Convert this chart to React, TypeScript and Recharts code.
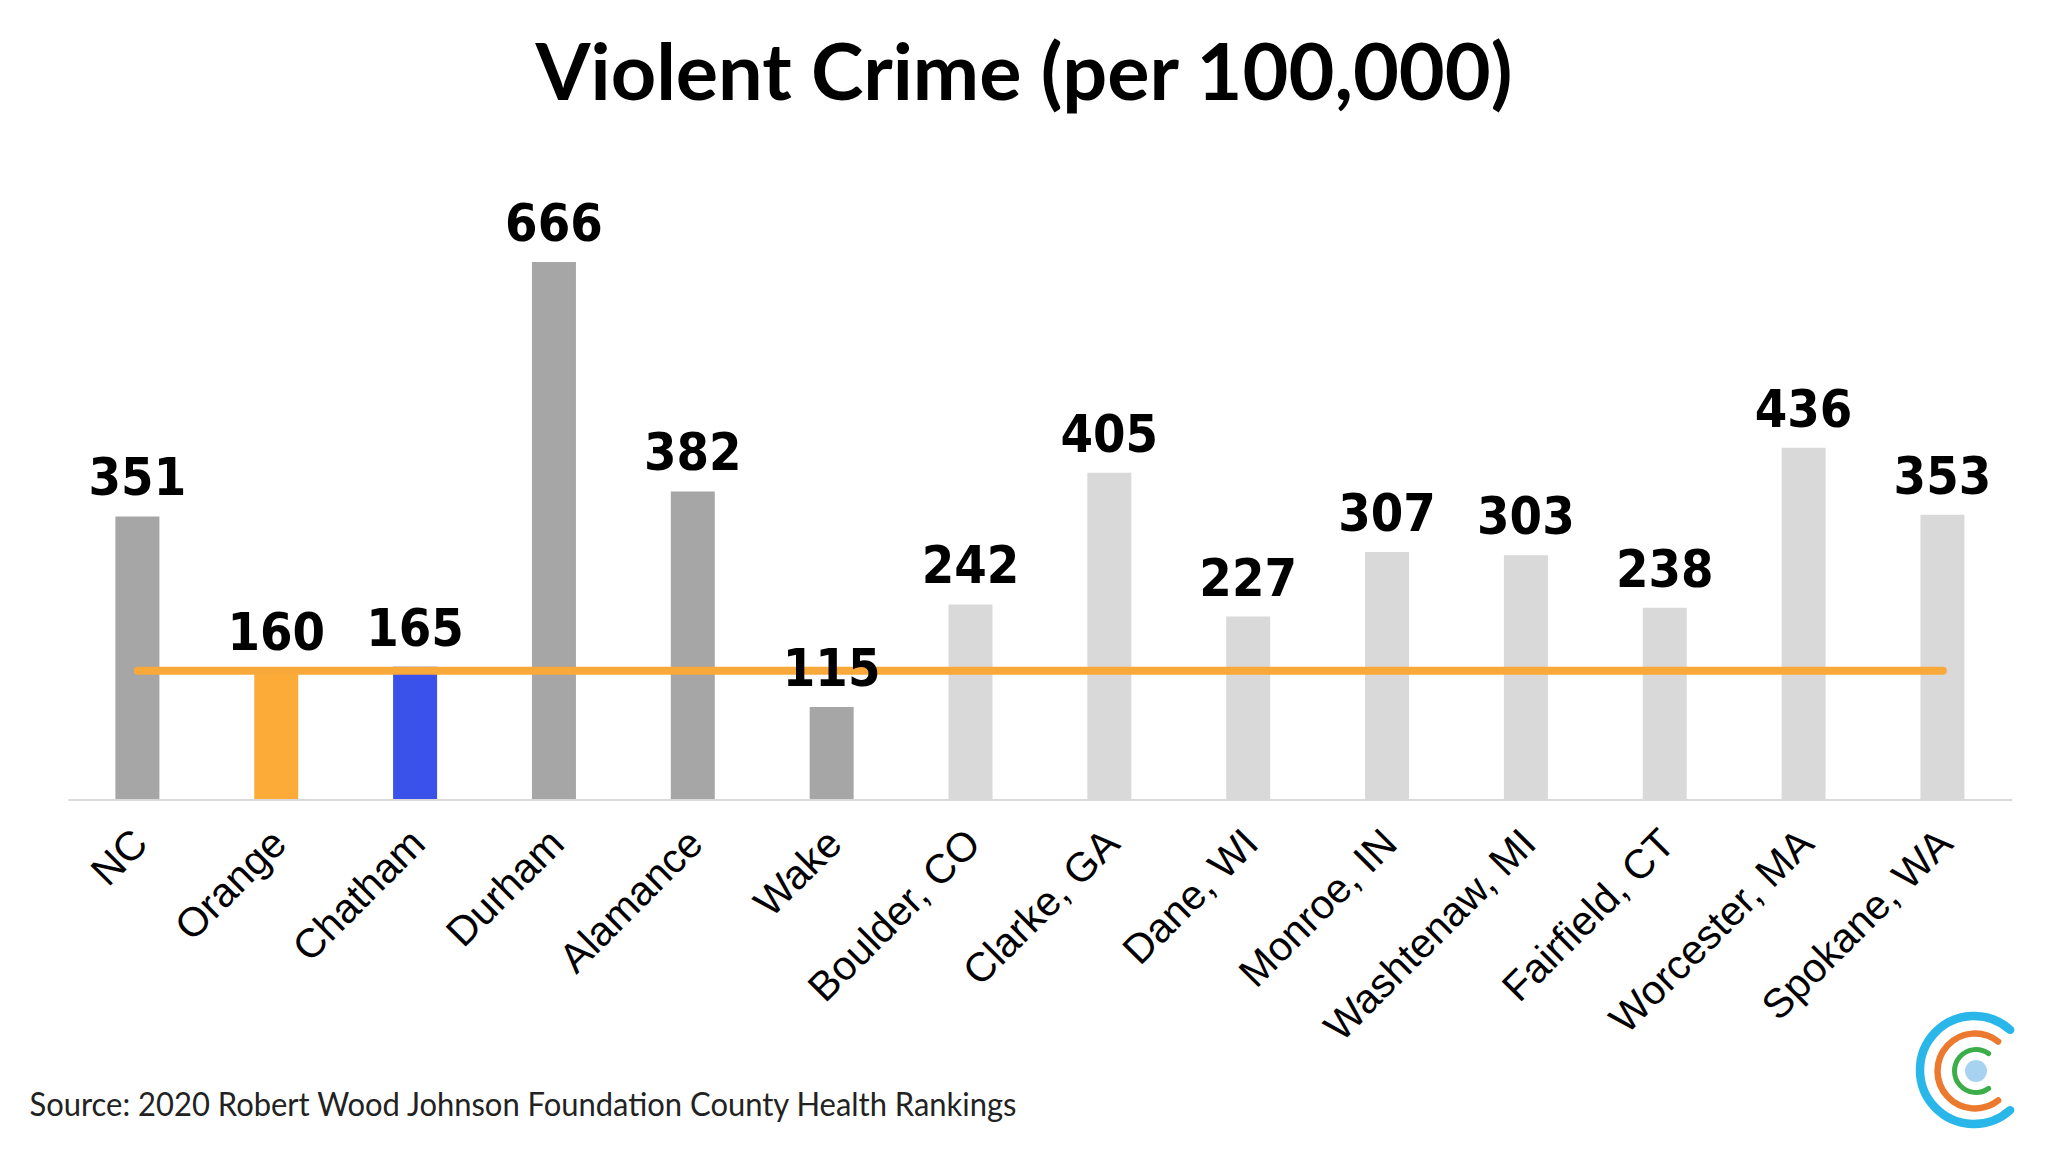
import React from "react";
import { ComposedChart, Bar, Cell, XAxis, YAxis, ReferenceLine, LabelList } from "recharts";

// Violent crime per 100,000 (2020 County Health Rankings)
const categories = [
  "NC",
  "Orange",
  "Chatham",
  "Durham",
  "Alamance",
  "Wake",
  "Boulder, CO",
  "Clarke, GA",
  "Dane, WI",
  "Monroe, IN",
  "Washtenaw, MI",
  "Fairfield, CT",
  "Worcester, MA",
  "Spokane, WA",
];
const violentCrime = [351, 160, 165, 666, 382, 115, 242, 405, 227, 307, 303, 238, 436, 353];
// which group each bar belongs to (drives the colour)
const groups = [
  "state",
  "orange",
  "chatham",
  "nc",
  "nc",
  "nc",
  "peer",
  "peer",
  "peer",
  "peer",
  "peer",
  "peer",
  "peer",
  "peer",
];
const orangeLevel = 160; // Orange County level drawn across the chart

const groupColors: Record<string, string> = {
  state: "#A6A6A6",
  nc: "#A6A6A6",
  orange: "#FCAA38",
  chatham: "#3A51EA",
  peer: "#D9D9D9",
};

const data = categories.map((name, i) => ({ name, value: violentCrime[i], group: groups[i] }));

const AngledTick = (props: any) => {
  const { x, y, payload } = props;
  const ax = x + 12;
  const ay = y + 46;
  return (
    <text
      x={ax}
      y={ay}
      transform={`rotate(-45, ${ax}, ${ay})`}
      textAnchor="end"
      fontFamily="'Liberation Sans', Arial, sans-serif"
      fontSize={41}
      fill="#000"
    >
      {payload.value}
    </text>
  );
};

// small decorative logo in the bottom right corner
const ring = (cx: number, cy: number, r: number, a: number) => {
  const rad = (a * Math.PI) / 180;
  const x = cx + r * Math.cos(rad);
  const y1 = cy - r * Math.sin(rad);
  const y2 = cy + r * Math.sin(rad);
  return `M ${x} ${y1} A ${r} ${r} 0 1 0 ${x} ${y2}`;
};

const App: React.FC = () => {
  return (
    <div style={{ position: "absolute", left: 0, top: 0, width: 2048, height: 1152, background: "#fff" }}>
      <ComposedChart
        width={2048}
        height={1152}
        data={data}
        margin={{ top: 234.5, right: 35.7, left: 68.4, bottom: 0 }}
      >
        <XAxis
          dataKey="name"
          height={352}
          interval={0}
          tickLine={false}
          tickSize={0}
          tickMargin={0}
          axisLine={{ stroke: "#D9D9D9", strokeWidth: 2 }}
          tick={<AngledTick />}
        />
        <YAxis hide domain={[0, 700]} />
        <Bar dataKey="value" barSize={44} isAnimationActive={false}>
          {data.map((d, i) => (
            <Cell key={`cell-${i}`} fill={groupColors[d.group]} />
          ))}
          <LabelList
            dataKey="value"
            position="top"
            offset={21}
            fill="#000"
            style={{ fontFamily: "'DejaVu Sans Condensed', 'DejaVu Sans', Verdana, sans-serif", fontSize: 52, fontWeight: 700 }}
          />
        </Bar>
        <ReferenceLine
          segment={[
            { x: categories[0], y: orangeLevel },
            { x: categories[categories.length - 1], y: orangeLevel },
          ]}
          stroke="#F9A93A"
          strokeWidth={8}
          strokeLinecap="round"
        />
      </ComposedChart>
      <svg
        width={2048}
        height={1152}
        style={{ position: "absolute", left: 0, top: 0, pointerEvents: "none" }}
      >
        <text
          x={1024}
          y={100}
          textAnchor="middle"
          fontFamily="Lato, 'Open Sans', sans-serif"
          fontWeight={700}
          fontSize={78}
          textLength={977}
          lengthAdjust="spacingAndGlyphs"
          fill="#000"
        >
          Violent Crime (per 100,000)
        </text>
        <text
          x={29.5}
          y={1116}
          fontFamily="Lato, 'Open Sans', sans-serif"
          fontSize={33.5}
          textLength={987}
          lengthAdjust="spacingAndGlyphs"
          fill="#222"
        >
          Source: 2020 Robert Wood Johnson Foundation County Health Rankings
        </text>
        <g fill="none" strokeLinecap="round">
          <path d={ring(1974, 1070, 54, 48)} stroke="#29B6E8" strokeWidth={8.5} />
          <path d={ring(1975, 1071, 37.5, 52)} stroke="#EC7A2E" strokeWidth={6.5} />
          <path d={ring(1976, 1071, 21.5, 54)} stroke="#3BAE49" strokeWidth={5} />
        </g>
        <circle cx={1976} cy={1071} r={11} fill="#A8D3F0" />
      </svg>
    </div>
  );
};

export default App;
